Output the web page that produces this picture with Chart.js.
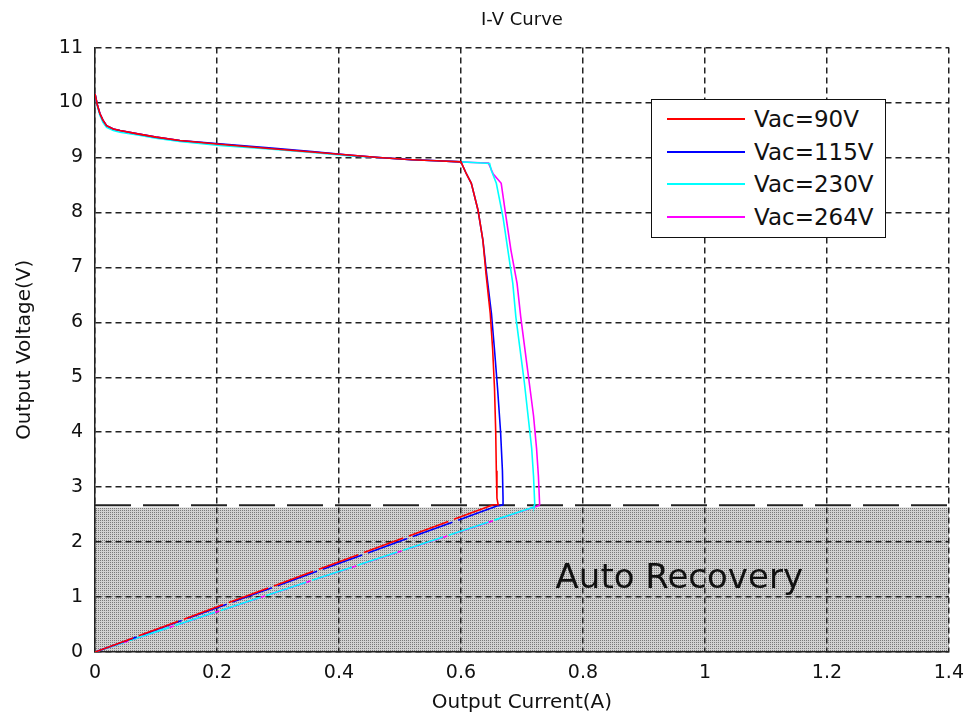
<!DOCTYPE html>
<html>
<head>
<meta charset="utf-8">
<script src="https://cdn.jsdelivr.net/npm/chart.js@4/dist/chart.umd.min.js"></script>
<style>
  html, body { margin: 0; padding: 0; background: #fff; }
  #wrap { position: relative; width: 974px; height: 718px; }
  #legendBox {
    position: absolute; left: 651px; top: 99px; width: 233px; height: 137px;
    border: 1.5px solid #111; background: #fff; box-sizing: content-box;
    font-family: "DejaVu Sans", sans-serif; font-size: 23px; color: #111;
  }
  .row { position: absolute; left: 0; height: 30px; display: flex; align-items: center; }
  .swatch { width: 78px; height: 0; border-top: 2px solid; margin-left: 15px; margin-right: 9px; }
</style>
</head>
<body>
<div id="wrap">
  <canvas id="c" width="974" height="718"></canvas>
  <div id="legendBox"></div>
</div>
<script>
// ---- Data ----
const seriesNames = ['Vac=90V', 'Vac=115V', 'Vac=230V', 'Vac=264V'];
const seriesColors = ['#ff0000', '#0000ff', '#00ffff', '#ff00ff'];

const current90 = [0, 0.004, 0.008, 0.013, 0.019, 0.03, 0.041, 0.07, 0.1, 0.139, 0.204, 0.29, 0.356, 0.42, 0.465, 0.52, 0.56, 0.6, 0.609, 0.617, 0.628, 0.636, 0.641, 0.648, 0.652, 0.655, 0.657, 0.658, 0.659, 0.661, 0.653, 0];
const voltage90 = [10.16, 9.95, 9.8, 9.68, 9.58, 9.52, 9.49, 9.43, 9.37, 9.31, 9.24, 9.16, 9.1, 9.04, 9.0, 8.96, 8.94, 8.92, 8.7, 8.53, 8.04, 7.49, 6.89, 6.16, 5.5, 4.8, 4.0, 3.3, 2.8, 2.68, 2.68, 0];

const current115 = [0, 0.004, 0.008, 0.013, 0.019, 0.03, 0.041, 0.07, 0.1, 0.139, 0.204, 0.29, 0.356, 0.42, 0.465, 0.52, 0.56, 0.6, 0.609, 0.617, 0.628, 0.636, 0.642, 0.65, 0.655, 0.66, 0.665, 0.668, 0.669, 0.669, 0.66, 0];
const voltage115 = [10.16, 9.95, 9.8, 9.68, 9.58, 9.52, 9.49, 9.43, 9.37, 9.31, 9.25, 9.17, 9.11, 9.04, 9.0, 8.96, 8.94, 8.92, 8.7, 8.53, 8.04, 7.49, 6.89, 6.16, 5.5, 4.8, 4.0, 3.3, 2.8, 2.68, 2.66, 0];

const current230 = [0, 0.004, 0.008, 0.013, 0.019, 0.03, 0.041, 0.07, 0.1, 0.139, 0.204, 0.29, 0.356, 0.42, 0.465, 0.52, 0.56, 0.6, 0.62, 0.647, 0.65, 0.658, 0.669, 0.677, 0.685, 0.69, 0.697, 0.704, 0.71, 0.716, 0.719, 0.721, 0.72, 0];
const voltage230 = [10.16, 9.93, 9.77, 9.64, 9.55, 9.49, 9.46, 9.41, 9.35, 9.29, 9.22, 9.15, 9.09, 9.03, 9.0, 8.96, 8.94, 8.92, 8.91, 8.89, 8.76, 8.53, 7.91, 7.31, 6.71, 6.1, 5.5, 4.9, 4.3, 3.7, 3.2, 2.68, 2.64, 0];

const current264 = [0, 0.004, 0.008, 0.013, 0.019, 0.03, 0.041, 0.07, 0.1, 0.139, 0.204, 0.29, 0.356, 0.42, 0.465, 0.52, 0.56, 0.6, 0.62, 0.645, 0.653, 0.666, 0.674, 0.682, 0.692, 0.698, 0.705, 0.712, 0.719, 0.724, 0.727, 0.729, 0.727, 0];
const voltage264 = [10.16, 9.95, 9.8, 9.68, 9.58, 9.52, 9.49, 9.43, 9.37, 9.31, 9.24, 9.16, 9.1, 9.04, 9.0, 8.96, 8.94, 8.92, 8.91, 8.9, 8.7, 8.53, 7.91, 7.31, 6.71, 6.1, 5.5, 4.9, 4.3, 3.7, 3.2, 2.68, 2.66, 0];

const recoveryLevel = 2.67;      // dashed protection threshold (V)
const recoveryShadeTop = 2.63;   // top of the shaded "Auto Recovery" band (V)
const recoveryLabel = 'Auto Recovery';
const recoveryLabelPos = { x: 0.958, y: 1.16 };

const xTickLabels = ['0', '0.2', '0.4', '0.6', '0.8', '1', '1.2', '1.4'];
const yTickLabels = ['0', '1', '2', '3', '4', '5', '6', '7', '8', '9', '10', '11'];

// ---- Build ----
function pts(xs, ys) { return xs.map((x, i) => ({ x: x, y: ys[i] })); }
const seriesCurrents = [current90, current115, current230, current264];
const seriesVoltages = [voltage90, voltage115, voltage230, voltage264];

const FONT = '"DejaVu Sans", sans-serif';

function makeStipple(ctx) {
  const t = document.createElement('canvas');
  t.width = 2; t.height = 2;
  const g = t.getContext('2d');
  g.fillStyle = '#d2d2d2'; g.fillRect(0, 0, 2, 2);
  g.fillStyle = '#7a7a7a'; g.fillRect(0, 0, 1, 1);
  return ctx.createPattern(t, 'repeat');
}

const shadePlugin = {
  id: 'shade',
  beforeDraw(chart) {
    const { ctx, scales: { x, y } } = chart;
    const x0 = x.getPixelForValue(0), x1 = x.getPixelForValue(1.4);
    const y0 = y.getPixelForValue(0), y1 = y.getPixelForValue(recoveryShadeTop);
    ctx.save();
    ctx.fillStyle = makeStipple(ctx);
    ctx.fillRect(x0, y1, x1 - x0, y0 - y1);
    ctx.restore();
  },
  beforeDatasetsDraw(chart) {
    const { ctx, scales: { x, y } } = chart;
    ctx.save();
    ctx.font = '34px ' + FONT;
    ctx.fillStyle = '#111';
    ctx.textAlign = 'center';
    ctx.textBaseline = 'alphabetic';
    ctx.fillText(recoveryLabel, x.getPixelForValue(recoveryLabelPos.x), y.getPixelForValue(recoveryLabelPos.y));
    ctx.restore();
  }
};

const datasets = seriesNames.map((name, i) => {
  const n = seriesCurrents[i].length;
  return {
    label: name,
    data: pts(seriesCurrents[i], seriesVoltages[i]),
    showLine: true,
    borderColor: seriesColors[i],
    backgroundColor: seriesColors[i],
    borderWidth: 1.6,
    pointRadius: 0,
    tension: 0,
    segment: {
      borderDash: ctx => (ctx.p1DataIndex === n - 1 ? [42, 6] : undefined)
    }
  };
});
datasets.push({
  label: 'threshold',
  data: [{ x: 0, y: recoveryLevel }, { x: 1.4, y: recoveryLevel }],
  showLine: true,
  borderColor: '#222',
  borderWidth: 2,
  borderDash: [36, 12],
  pointRadius: 0,
  order: 10
});

new Chart(document.getElementById('c'), {
  type: 'scatter',
  data: { datasets },
  plugins: [shadePlugin],
  options: {
    responsive: false,
    animation: false,
    layout: { padding: { left: 0, right: 20, top: 0, bottom: 0 } },
    plugins: {
      legend: { display: false },
      tooltip: { enabled: false },
      title: {
        display: true,
        text: 'I-V Curve',
        fullSize: false,
        color: '#111',
        font: { family: FONT, size: 18, weight: 'normal', lineHeight: 1.2 },
        padding: { top: 10, bottom: 16 }
      }
    },
    scales: {
      x: {
        type: 'linear', min: 0, max: 1.4,
        afterFit: s => { s.height = 66; },
        ticks: {
          stepSize: 0.2, padding: 10, color: '#111',
          font: { family: FONT, size: 19 },
          maxRotation: 0,
          callback: (v, i) => xTickLabels[i]
        },
        grid: { color: '#222', lineWidth: 1.5, drawTicks: false },
        border: { display: true, color: '#222', width: 1.5, dash: [6, 4] },
        title: { display: true, text: 'Output Current(A)', color: '#111', font: { family: FONT, size: 20, lineHeight: 1.2 }, padding: { top: 0, bottom: 3 } }
      },
      y: {
        type: 'linear', min: 0, max: 11,
        afterFit: s => { s.width = 95; },
        ticks: {
          stepSize: 1, padding: 12, color: '#111',
          font: { family: FONT, size: 19 },
          callback: (v, i) => yTickLabels[i]
        },
        grid: { color: '#222', lineWidth: 1.5, drawTicks: false },
        border: { display: true, color: '#222', width: 1.5, dash: [6, 4] },
        title: { display: true, text: 'Output Voltage(V)', color: '#111', font: { family: FONT, size: 20, lineHeight: 1.2 }, padding: { top: 13, bottom: 0 } }
      }
    }
  }
});

// HTML legend built from the series arrays
const box = document.getElementById('legendBox');
const rowTops = [4, 37, 69, 102];
seriesNames.forEach((name, i) => {
  const r = document.createElement('div');
  r.className = 'row';
  r.style.top = rowTops[i] + 'px';
  const sw = document.createElement('div');
  sw.className = 'swatch';
  sw.style.borderTopColor = seriesColors[i];
  const t = document.createElement('span');
  t.textContent = name;
  r.appendChild(sw); r.appendChild(t);
  box.appendChild(r);
});
</script>
</body>
</html>
